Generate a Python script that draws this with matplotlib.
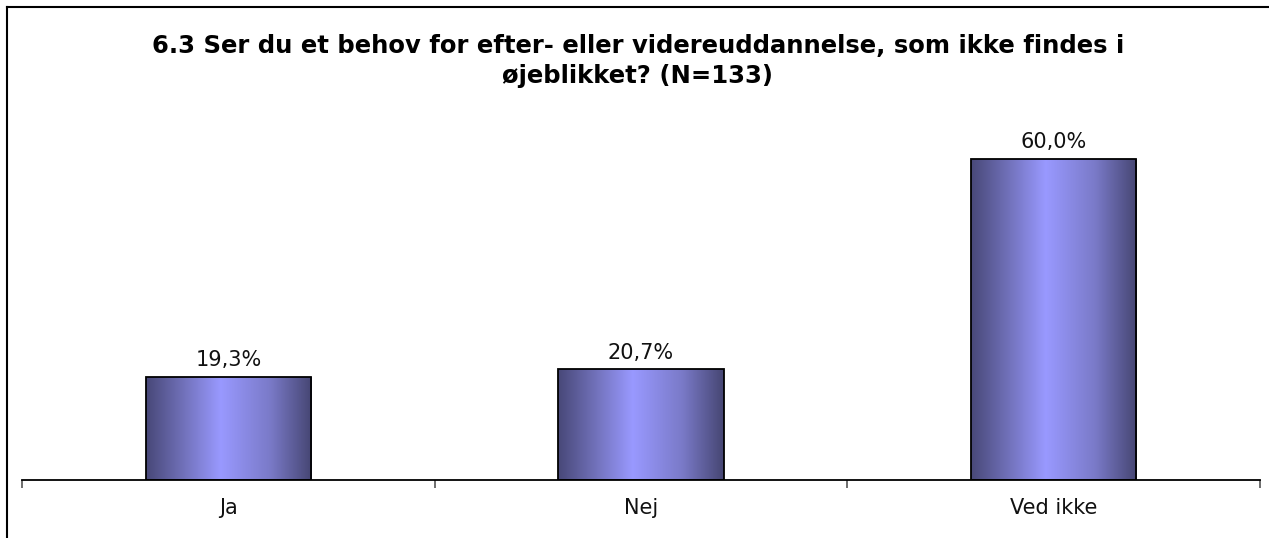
import numpy as np
import matplotlib
matplotlib.use("Agg")
import matplotlib.pyplot as plt
from matplotlib.colors import LinearSegmentedColormap
from matplotlib.lines import Line2D

categories = ["Ja", "Nej", "Ved ikke"]
values = [19.3, 20.7, 60.0]
value_labels = ["19,3%", "20,7%", "60,0%"]
title = "6.3 Ser du et behov for efter- eller videreuddannelse, som ikke findes i\nøjeblikket? (N=133)"

W, H = 1269, 538
fig = plt.figure(figsize=(W / 100, H / 100), dpi=100)

# outer chart frame (cropped at right/bottom)
fig.add_artist(Line2D([7 / W, 7 / W], [0, 1 - 7 / H], color="black", lw=1.5))
fig.add_artist(Line2D([7 / W, 1], [1 - 7 / H, 1 - 7 / H], color="black", lw=1.5))

ax = fig.add_axes([22 / W, 58 / H, 1238 / W, 375 / H])
x = np.arange(len(categories))
bars = ax.bar(x, values, width=0.4, facecolor="none", edgecolor="black", linewidth=1.3, zorder=3)

cmap = LinearSegmentedColormap.from_list(
    "bar", [(0, "#484878"), (0.22, "#7070b8"), (0.45, "#9999ff"), (0.75, "#7a7ac8"), (1, "#464673")])
grad = np.linspace(0, 1, 256).reshape(1, -1)
for b in bars:
    im = ax.imshow(grad, cmap=cmap, aspect="auto", zorder=2,
                   extent=[b.get_x(), b.get_x() + b.get_width(), 0, b.get_height()])
    im.set_clip_path(b)

for xi, v, lab in zip(x, values, value_labels):
    ax.annotate(lab, (xi, v), xytext=(0, 4.5), textcoords="offset points",
                ha="center", va="bottom", fontsize=15, color="#111111")

ax.set_xlim(-0.5, 2.5)
ax.set_ylim(0, 70)
for s in ["top", "right", "left"]:
    ax.spines[s].set_visible(False)
ax.spines["bottom"].set_linewidth(1.3)
ax.set_yticks([])
ax.set_xticks(x)
ax.set_xticklabels(categories, fontsize=15, color="#111111")
ax.tick_params(axis="x", which="major", length=0, pad=13)
ax.set_xticks([-0.5, 0.5, 1.5, 2.5], minor=True)
ax.tick_params(axis="x", which="minor", length=6, width=1.2, color="#555555")

fig.text(638 / W, 1 - 61 / H, title, ha="center", va="center", fontsize=17.5,
         fontweight="bold", linespacing=1.35)

fig.savefig("out.png", dpi=100)
